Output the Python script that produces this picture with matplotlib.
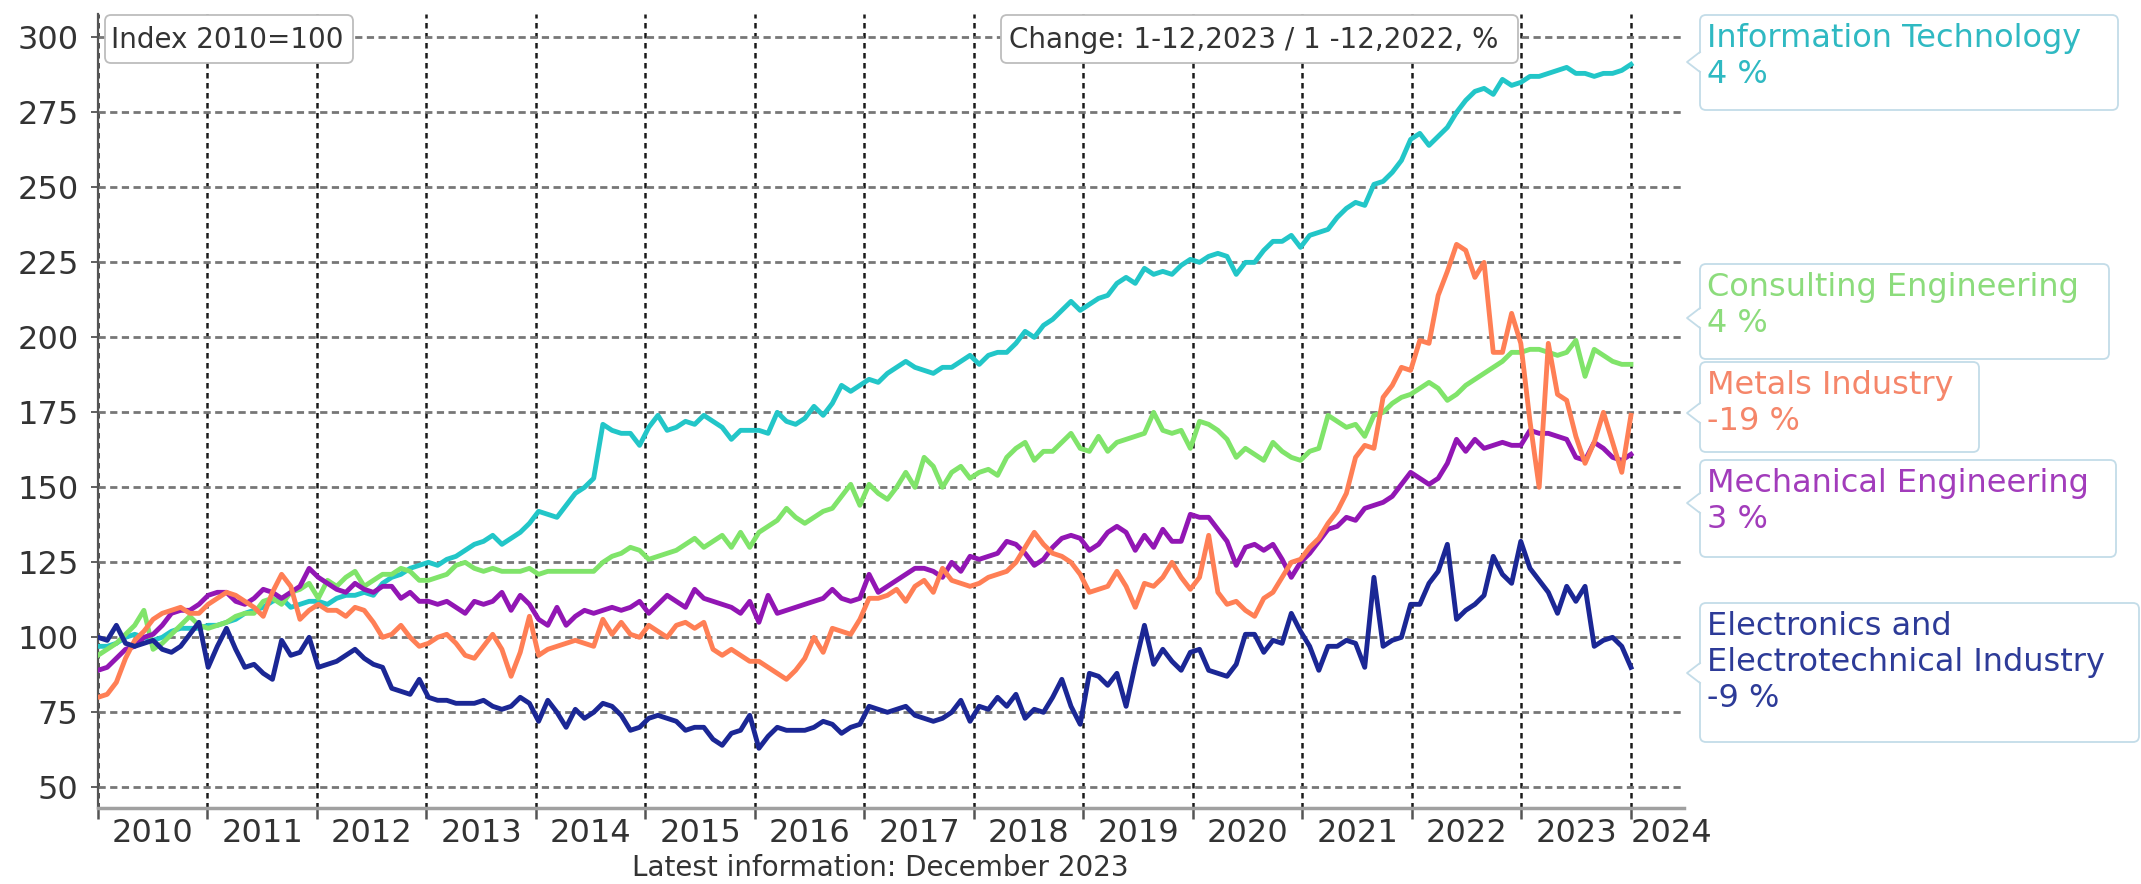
import numpy as np
import matplotlib
matplotlib.use('Agg')
import matplotlib.pyplot as plt
from matplotlib.patches import FancyBboxPatch, Polygon
from matplotlib.lines import Line2D
from matplotlib.transforms import Affine2D

# monthly index values, Jan 2010 .. Dec 2023 (one row per year)
it = [97, 97, 98, 100, 101, 100, 99, 100, 102, 103, 103, 103,
      104, 104, 105, 106, 108, 109, 110, 112, 113, 110, 111, 112,
      112, 111, 113, 114, 114, 115, 114, 118, 120, 121, 123, 124,
      125, 124, 126, 127, 129, 131, 132, 134, 131, 133, 135, 138,
      142, 141, 140, 144, 148, 150, 153, 171, 169, 168, 168, 164,
      170, 174, 169, 170, 172, 171, 174, 172, 170, 166, 169, 169,
      169, 168, 175, 172, 171, 173, 177, 174, 178, 184, 182, 184,
      186, 185, 188, 190, 192, 190, 189, 188, 190, 190, 192, 194,
      191, 194, 195, 195, 198, 202, 200, 204, 206, 209, 212, 209,
      211, 213, 214, 218, 220, 218, 223, 221, 222, 221, 224, 226,
      225, 227, 228, 227, 221, 225, 225, 229, 232, 232, 234, 230,
      234, 235, 236, 240, 243, 245, 244, 251, 252, 255, 259, 266,
      268, 264, 267, 270, 275, 279, 282, 283, 281, 286, 284, 285,
      287, 287, 288, 289, 290, 288, 288, 287, 288, 288, 289, 291]

consulting = [94, 96, 98, 101, 104, 109, 96, 98, 101, 104, 107, 104,
              103, 104, 105, 107, 108, 108, 112, 113, 111, 115, 116, 118,
              113, 119, 117, 120, 122, 117, 119, 121, 121, 123, 122, 119,
              119, 120, 121, 124, 125, 123, 122, 123, 122, 122, 122, 123,
              121, 122, 122, 122, 122, 122, 122, 125, 127, 128, 130, 129,
              126, 127, 128, 129, 131, 133, 130, 132, 134, 130, 135, 130,
              135, 137, 139, 143, 140, 138, 140, 142, 143, 147, 151, 144,
              151, 148, 146, 150, 155, 150, 160, 157, 150, 155, 157, 153,
              155, 156, 154, 160, 163, 165, 159, 162, 162, 165, 168, 163,
              162, 167, 162, 165, 166, 167, 168, 175, 169, 168, 169, 163,
              172, 171, 169, 166, 160, 163, 161, 159, 165, 162, 160, 159,
              162, 163, 174, 172, 170, 171, 167, 174, 175, 178, 180, 181,
              183, 185, 183, 179, 181, 184, 186, 188, 190, 192, 195, 195,
              196, 196, 195, 194, 195, 199, 187, 196, 194, 192, 191, 191]

metals = [80, 81, 85, 93, 99, 102, 106, 108, 109, 110, 108, 108,
          111, 113, 115, 114, 112, 110, 107, 115, 121, 117, 106, 109,
          111, 109, 109, 107, 110, 109, 105, 100, 101, 104, 100, 97,
          98, 100, 101, 98, 94, 93, 97, 101, 96, 87, 95, 107,
          94, 96, 97, 98, 99, 98, 97, 106, 101, 105, 101, 100,
          104, 102, 100, 104, 105, 103, 105, 96, 94, 96, 94, 92,
          92, 90, 88, 86, 89, 93, 100, 95, 103, 102, 101, 106,
          113, 113, 114, 116, 112, 117, 119, 115, 123, 119, 118, 117,
          118, 120, 121, 122, 125, 130, 135, 131, 128, 127, 125, 121,
          115, 116, 117, 122, 117, 110, 118, 117, 120, 125, 120, 116,
          120, 134, 115, 111, 112, 109, 107, 113, 115, 120, 125, 126,
          130, 133, 138, 142, 148, 160, 164, 163, 180, 184, 190, 189,
          199, 198, 214, 222, 231, 229, 220, 225, 195, 195, 208, 198,
          172, 150, 198, 181, 179, 167, 158, 165, 175, 165, 155, 174]

mechanical = [89, 90, 93, 96, 97, 100, 101, 104, 108, 109, 109, 111,
              114, 115, 115, 112, 111, 113, 116, 115, 113, 115, 117, 123,
              120, 118, 116, 115, 118, 116, 115, 117, 117, 113, 115, 112,
              112, 111, 112, 110, 108, 112, 111, 112, 115, 109, 114, 111,
              106, 104, 110, 104, 107, 109, 108, 109, 110, 109, 110, 112,
              108, 111, 114, 112, 110, 116, 113, 112, 111, 110, 108, 112,
              105, 114, 108, 109, 110, 111, 112, 113, 116, 113, 112, 113,
              121, 115, 117, 119, 121, 123, 123, 122, 120, 125, 122, 127,
              126, 127, 128, 132, 131, 128, 124, 126, 130, 133, 134, 133,
              129, 131, 135, 137, 135, 129, 134, 130, 136, 132, 132, 141,
              140, 140, 136, 132, 124, 130, 131, 129, 131, 126, 120, 125,
              128, 132, 136, 137, 140, 139, 143, 144, 145, 147, 151, 155,
              153, 151, 153, 158, 166, 162, 166, 163, 164, 165, 164, 164,
              169, 168, 168, 167, 166, 160, 159, 165, 163, 160, 159, 161]

electronics = [100, 99, 104, 98, 97, 98, 99, 96, 95, 97, 101, 105,
               90, 97, 103, 96, 90, 91, 88, 86, 99, 94, 95, 100,
               90, 91, 92, 94, 96, 93, 91, 90, 83, 82, 81, 86,
               80, 79, 79, 78, 78, 78, 79, 77, 76, 77, 80, 78,
               72, 79, 75, 70, 76, 73, 75, 78, 77, 74, 69, 70,
               73, 74, 73, 72, 69, 70, 70, 66, 64, 68, 69, 74,
               63, 67, 70, 69, 69, 69, 70, 72, 71, 68, 70, 71,
               77, 76, 75, 76, 77, 74, 73, 72, 73, 75, 79, 72,
               77, 76, 80, 77, 81, 73, 76, 75, 80, 86, 77, 71,
               88, 87, 84, 88, 77, 91, 104, 91, 96, 92, 89, 95,
               96, 89, 88, 87, 91, 101, 101, 95, 99, 98, 108, 102,
               97, 89, 97, 97, 99, 98, 90, 120, 97, 99, 100, 111,
               111, 118, 122, 131, 106, 109, 111, 114, 127, 121, 118, 132,
               123, 119, 115, 108, 117, 112, 117, 97, 99, 100, 97, 90]

series_names = ['Information Technology', 'Consulting Engineering', 'Metals Industry',
                'Mechanical Engineering', 'Electronics and\nElectrotechnical Industry']
changes = ['4 %', '4 %', '-19 %', '3 %', '-9 %']
line_colors = ['#22C6C8', '#80E46A', '#FF7F55', '#9216B4', '#1B2795']
label_colors = ['#2FB9C2', '#8CDC7C', '#F5866A', '#A23CBB', '#2D3B98']
years = list(range(2010, 2025))

W, H = 2141, 884
fig = plt.figure(figsize=(W / 100, H / 100), dpi=100)
ax = fig.add_axes([98 / W, 1 - 808 / H, (1683.5 - 98) / W, (808 - 14) / H])
# transform: pixels measured from top-left of the figure
px = Affine2D().scale(1 / W, -1 / H).translate(0, 1) + fig.transFigure

# monthly points spread over the years shown
x = np.linspace(2010, 2024, len(it))
data = [it, consulting, metals, mechanical, electronics]
order = [0, 1, 3, 2, 4]
for i in order:
    ax.plot(x, data[i], color=line_colors[i], lw=3.5, solid_joinstyle='round', zorder=3)

ax.set_xlim(2010, 2024.48)
ax.set_ylim(43.1, 307.8)
ax.set_yticks(range(50, 301, 25))
ax.set_xticks(years)
ax.set_xticklabels([])
ax.set_xticks([y + 0.5 for y in years[:-1]] + [2024.37], minor=True)
ax.set_xticklabels([str(y) for y in years], minor=True)
ax.tick_params(axis='y', direction='out', length=5, width=1.2, color='#444',
               labelsize=23, labelcolor='#333', pad=9)
ax.tick_params(axis='x', which='major', direction='out', length=8, width=1.8, color='#555')
ax.tick_params(axis='x', which='minor', length=0, labelsize=23, labelcolor='#333', pad=7)

ax.grid(axis='y', color='#777', lw=2.0, linestyle=(0, (2.6, 1.6)))
ax.grid(axis='x', which='major', color='#1a1a1a', lw=1.8, linestyle=(0, (2.2, 1.8)))
ax.set_axisbelow(True)
for s in ['top', 'right']:
    ax.spines[s].set_visible(False)
ax.spines['left'].set_color('#555')
ax.spines['left'].set_linewidth(1.6)
ax.spines['bottom'].set_color('#a0a0a0')
ax.spines['bottom'].set_linewidth(2.5)


def box(x0, y0, x1, y1, edge, notch=None):
    p = FancyBboxPatch((x0, y0), x1 - x0, y1 - y0, boxstyle='round,pad=0,rounding_size=6',
                       transform=px, facecolor='white', edgecolor=edge, lw=1.3, zorder=5)
    fig.add_artist(p)
    if notch is not None:
        fig.add_artist(Polygon([(x0 + 2, notch - 10), (x0 - 13, notch), (x0 + 2, notch + 10)],
                               closed=True, transform=px, facecolor='white',
                               edgecolor='none', zorder=6))
        fig.add_artist(Line2D([x0, x0 - 13, x0], [notch - 10, notch, notch + 10],
                              transform=px, color=edge, lw=1.3, zorder=7))


# top info boxes
box(105, 15, 353, 63, '#bdbdbd')
fig.text(111 / W, 1 - 40 / H, 'Index 2010=100', fontsize=20, color='#333', va='center', zorder=8)
box(1001, 15, 1518, 63, '#bdbdbd')
fig.text(1009 / W, 1 - 40 / H, 'Change: 1-12,2023 / 1 -12,2022, %', fontsize=20, color='#333',
         va='center', zorder=8)

# right-hand series labels
label_boxes = [(15, 110, 2118, 62), (264, 359, 2109, 318), (362, 452, 1979, 413),
               (460, 557, 2116, 503), (603, 742, 2139, 673)]
for i, (y0, y1, x1, ny) in enumerate(label_boxes):
    box(1700, y0, x1, y1, '#c3dce8', notch=ny)
    fig.text(1707 / W, 1 - (y0 + 8) / H, series_names[i] + '\n' + changes[i], fontsize=23,
             color=label_colors[i], va='top', linespacing=1.2, zorder=8)

fig.text(880 / W, 1 - 868 / H, 'Latest information: December 2023', fontsize=20,
         color='#333', ha='center', va='center')

fig.savefig('out.png', dpi=100, facecolor='white')
